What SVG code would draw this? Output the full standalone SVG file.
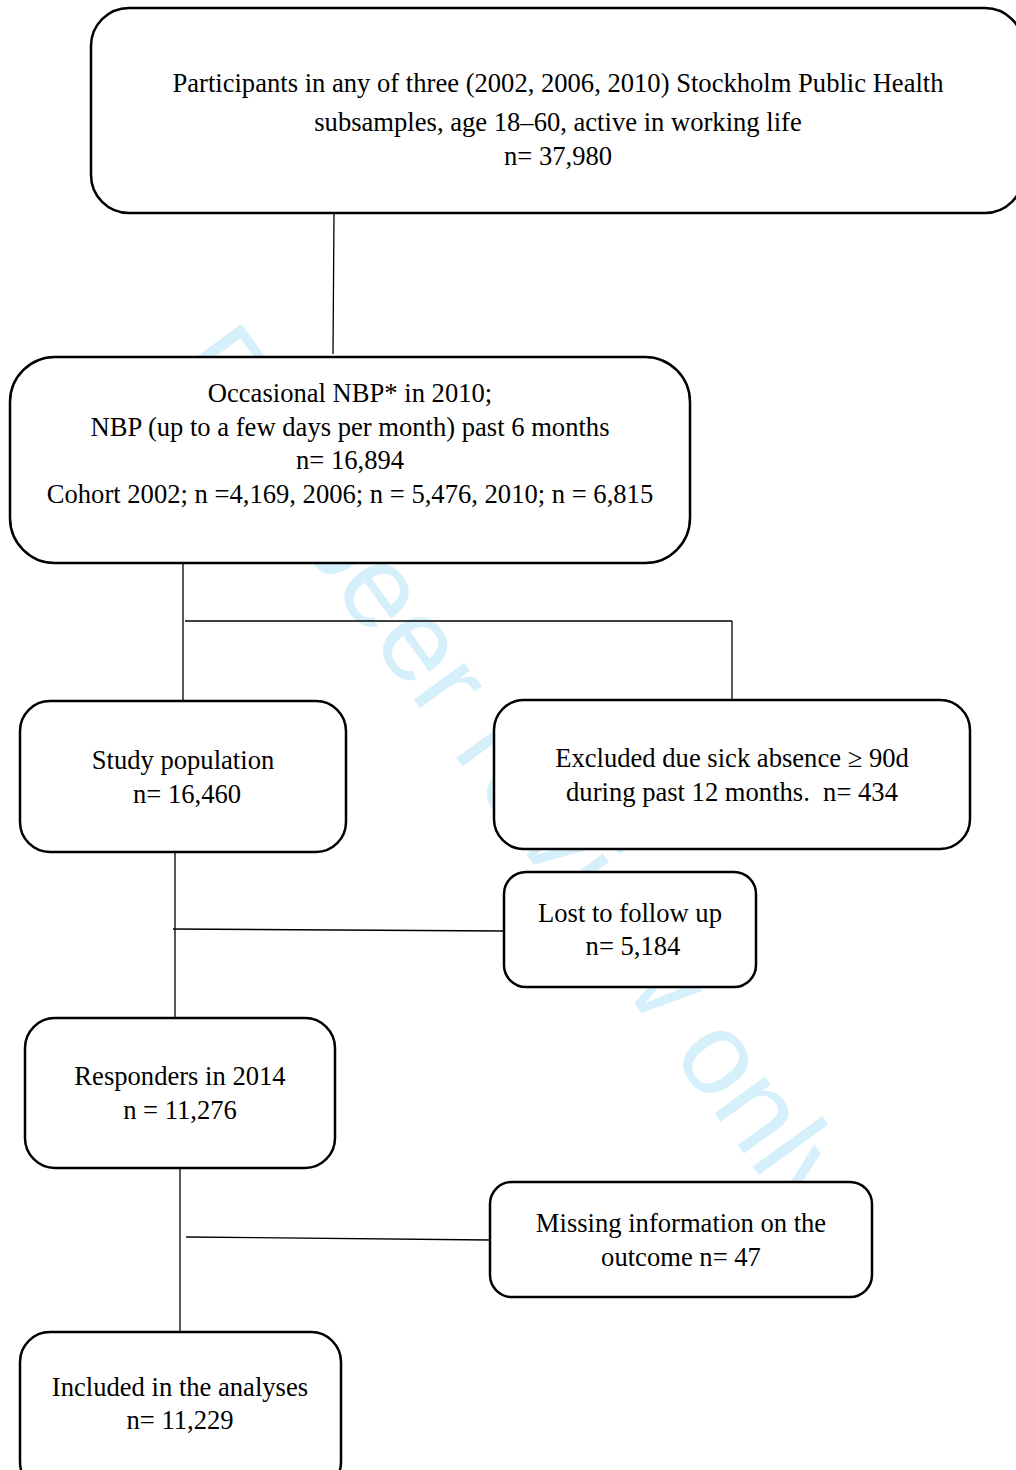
<svg xmlns="http://www.w3.org/2000/svg" width="1016" height="1470" viewBox="0 0 1016 1470">
<style>
.box{fill:#ffffff;stroke:#000000;stroke-width:2.5}
.lbl{font-family:"Liberation Serif","Times New Roman",serif;font-size:26.6px;fill:#000000;text-anchor:middle}
.conn line{stroke:#000000;stroke-width:1.3}
.wm{font-family:"Liberation Sans",Arial,sans-serif;font-size:118px;fill:#d5effb}
</style>
<rect x="0" y="0" width="1016" height="1470" fill="#ffffff"/>
<text class="wm" transform="translate(170,364) rotate(54)" x="0" y="0">For peer review only</text>
<g id="connectors" class="conn">
<line x1="334" y1="213" x2="333" y2="354"/>
<line x1="183" y1="563" x2="183" y2="701"/>
<line x1="185" y1="621" x2="732" y2="621"/>
<line x1="732" y1="621" x2="732" y2="700"/>
<line x1="175" y1="852" x2="175" y2="1018"/>
<line x1="173" y1="929" x2="503" y2="931"/>
<line x1="180" y1="1168" x2="180" y2="1332"/>
<line x1="186" y1="1237" x2="490" y2="1240"/>
</g>
<g id="node-participants">
<rect class="box" x="91" y="8" width="932" height="205" rx="38"/>
<text class="lbl" x="558" y="92">Participants in any of three (2002, 2006, 2010) Stockholm Public Health</text>
<text class="lbl" x="558" y="131">subsamples, age 18–60, active in working life</text>
<text class="lbl" x="558" y="165">n= 37,980</text>
</g>
<g id="node-occasional">
<rect class="box" x="10" y="357" width="680" height="206" rx="45"/>
<text class="lbl" x="350" y="402">Occasional NBP* in 2010;</text>
<text class="lbl" x="350" y="436">NBP (up to a few days per month) past 6 months</text>
<text class="lbl" x="350" y="469">n= 16,894</text>
<text class="lbl" x="350" y="503">Cohort 2002; n =4,169, 2006; n = 5,476, 2010; n = 6,815</text>
</g>
<g id="node-study">
<rect class="box" x="20" y="701" width="326" height="151" rx="30"/>
<text class="lbl" x="183" y="769">Study population</text>
<text class="lbl" x="187" y="803">n= 16,460</text>
</g>
<g id="node-excluded">
<rect class="box" x="494" y="700" width="476" height="149" rx="30"/>
<text class="lbl" x="732" y="767">Excluded due sick absence ≥ 90d</text>
<text class="lbl" x="732" y="801" xml:space="preserve">during past 12 months.  n= 434</text>
</g>
<g id="node-lost">
<rect class="box" x="504" y="872" width="252" height="115" rx="22"/>
<text class="lbl" x="630" y="922">Lost to follow up</text>
<text class="lbl" x="633" y="955">n= 5,184</text>
</g>
<g id="node-responders">
<rect class="box" x="25" y="1018" width="310" height="150" rx="30"/>
<text class="lbl" x="180" y="1085">Responders in 2014</text>
<text class="lbl" x="180" y="1119">n = 11,276</text>
</g>
<g id="node-missing">
<rect class="box" x="490" y="1182" width="382" height="115" rx="22"/>
<text class="lbl" x="681" y="1232">Missing information on the</text>
<text class="lbl" x="681" y="1266">outcome n= 47</text>
</g>
<g id="node-included">
<rect class="box" x="20" y="1332" width="321" height="160" rx="30"/>
<text class="lbl" x="180" y="1396">Included in the analyses</text>
<text class="lbl" x="180" y="1429">n= 11,229</text>
</g>
</svg>
